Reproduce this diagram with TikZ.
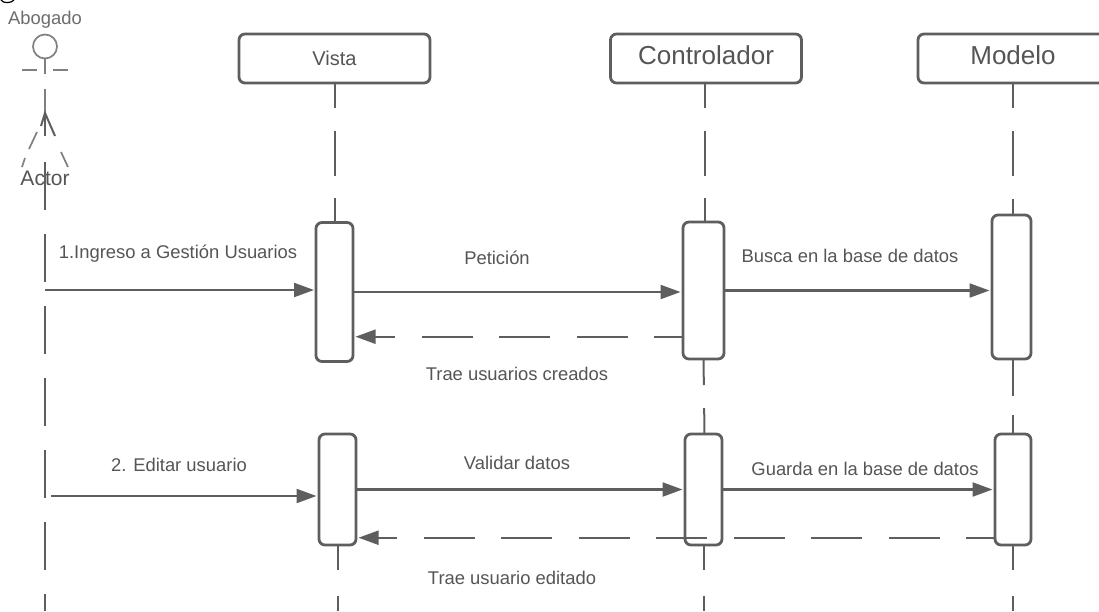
\documentclass[tikz,border=0pt]{standalone}
\usepackage{fontspec}
\setmainfont{Liberation Sans}
\usetikzlibrary{arrows.meta}
\definecolor{ink}{HTML}{5E5E5E}
\definecolor{txt}{HTML}{555555}
\definecolor{pale}{HTML}{808080}
\tikzset{
  x=1pt,y=-1pt,
  headbox/.style={draw=ink,line width=2.8pt,rounded corners=6pt,fill=white,minimum width=#1,minimum height=49pt,inner sep=0pt,outer sep=0pt},
  actbox/.style 2 args={draw=ink,line width=2.8pt,rounded corners=6pt,fill=white,minimum width=#1,minimum height=#2,inner sep=0pt,outer sep=0pt},
  life/.style={draw=ink,line width=2pt},
  actorline/.style={draw=pale,line width=1.7pt},
  msg/.style={draw=ink,line width=2.2pt,-{Triangle[length=20pt,width=14pt]},shorten >=2.5pt},
  reply/.style={msg,dash pattern=on 51pt off 26.5pt,dash phase=22pt},
  lbl/.style={text=txt,inner sep=0pt,font=\fontsize{#1}{#1}\selectfont},
  lbl/.default=18.4pt
}
\begin{document}
\begin{tikzpicture}
\useasboundingbox (0,0) rectangle (1099,611);
\clip (0,0) rectangle (1099,611);
\fill[white] (0,0) rectangle (1099,611);
% clipped glyph at the very top
\draw[black,line width=1.2pt] (1,0) .. controls (3,3.5) and (11,3.5) .. (14,0);

% head boxes
\node[headbox=191pt,lbl=20pt] (vista) at (334.5,58.5) {Vista};
\node[headbox=191pt,lbl=26pt] (ctrl) at (706,58.5) {};
\node[lbl=26pt] (ctrltext) at (706,55) {Controlador};
\node[headbox=190pt] (model) at (1013,58.5) {};
\node[lbl=26pt] (modeltext) at (1013,55) {Modelo};

% lifeline x positions
\coordinate (lifeV) at (334.5,0);
\coordinate (lifeC) at (704.5,0);
\coordinate (lifeM) at (1013,0);
\coordinate (endV) at (337.5,611);
\coordinate (endC) at (704,611);
\coordinate (endM) at (1013,611);
\coordinate (endA) at (45,611);
\coordinate (startA) at (45,162);
\coordinate (startB) at (51,496);

% activations
\node[actbox={37pt}{139pt}] (v1) at (334.5,292) {};
\node[actbox={37pt}{111pt}] (v2) at (337.5,489.5) {};
\node[actbox={41pt}{137pt}] (c1) at (703.5,290.5) {};
\node[actbox={37pt}{111pt}] (c2) at (703.5,489.5) {};
\node[actbox={39pt}{144pt}] (m1) at (1011.5,287) {};
\node[actbox={36pt}{111pt}] (m2) at (1013,489.5) {};

% lifelines
\draw[life,dash pattern=on 25pt off 23pt on 45pt off 22pt on 30pt] (vista.south) -- (v1.north -| lifeV);
\draw[life,dash pattern=on 25pt off 26pt on 30pt] (v2.south) -- (endV);
\draw[life,dash pattern=on 25pt off 23pt on 45pt off 22pt on 30pt] (ctrl.south -| lifeC) -- (c1.north -| lifeC);
\draw[life,dash pattern=on 26pt off 23pt on 30pt] (c1.south) -- (c2.north -| lifeC);
\draw[life,dash pattern=on 25pt off 26pt on 30pt] (c2.south -| endC) -- (endC);
\draw[life,dash pattern=on 25pt off 23pt on 45pt off 23pt on 30pt] (model.south -| lifeM) -- (m1.north -| lifeM);
\draw[life,dash pattern=on 37pt off 19pt on 30pt] (m1.south -| lifeM) -- (m2.north -| lifeM);
\draw[life,dash pattern=on 25pt off 26pt on 30pt] (m2.south -| lifeM) -- (endM);

% actor figure
\node[lbl=18.4pt,text=pale!85!black] (abogado) at (45,20) {Abogado};
\node[draw=pale,line width=1.7pt,circle,minimum size=24pt,inner sep=0pt,outer sep=0pt] (head) at (45,46.5) {};
\draw[actorline] (head.south) -- (45,74);
\draw[actorline] (22,70) -- (37,70);
\draw[actorline] (53,70) -- (68,70);
\draw[actorline] (45,89) -- (45,115);
\draw[life] (45,113) -- (45,136);
\draw[life] (41,126) -- (45,113) -- (55,136);
\draw[actorline] (37,132) -- (29,149);
\draw[actorline] (25,158) -- (22,167);
\draw[actorline] (61,152) -- (68,167);
\node[lbl=21pt] (actorlbl) at (45,178) {Actor};
\draw[life,dash pattern=on 48pt off 24pt] (startA) -- (endA);

% messages
\draw[msg,shorten >=2pt] (startA |- 0,290) -- (v1.west |- 0,290);
\draw[msg] (v1.east |- 0,292) -- (c1.west |- 0,292);
\draw[msg] (c1.east |- 0,290.5) -- (m1.west |- 0,290.5);
\draw[reply] (c1.west |- 0,336.7) -- (v1.east |- 0,336.7);
\draw[msg] (startB) -- (v2.west |- startB);
\draw[msg] (v2.east |- 0,489.5) -- (c2.west |- 0,489.5);
\draw[msg] (c2.east |- 0,489.5) -- (m2.west |- 0,489.5);
\draw[reply] (m2.west |- 0,537.7) -- (v2.east |- 0,537.7);

% labels
\node[lbl] (l1) at (178,254) {1.Ingreso a Gestión Usuarios};
\node[lbl] (l2) at (497,258) {Petición};
\node[lbl] (l3) at (850,256) {Busca en la base de datos};
\node[lbl] (l4) at (517,374) {Trae usuarios creados};
\node[lbl] (l5) at (179,465) {2. Editar usuario};
\node[lbl] (l6) at (517,463) {Validar datos};
\node[lbl] (l7) at (865,469) {Guarda en la base de datos};
\node[lbl] (l8) at (512,578) {Trae usuario editado};
\end{tikzpicture}
\end{document}
